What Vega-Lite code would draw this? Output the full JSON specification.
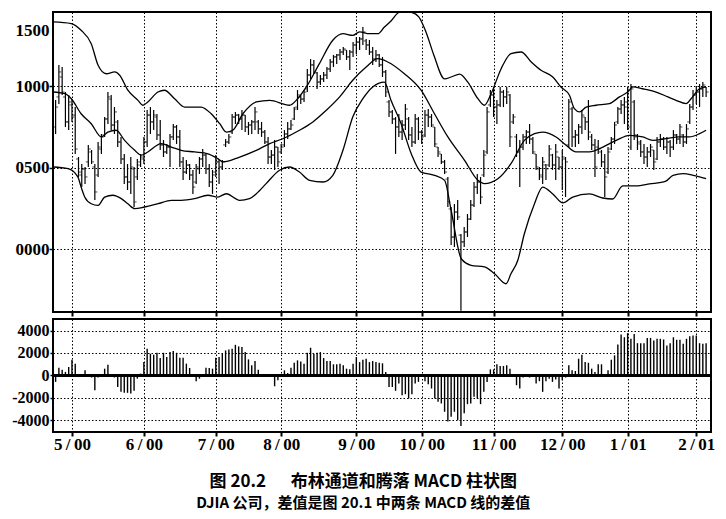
{
  "$schema": "https://vega.github.io/schema/vega-lite/v6.json",
  "background": "white",
  "padding": {"left": 10, "top": 11, "right": 12, "bottom": 4},
  "spacing": 0,
  "config": {
    "view": {"stroke": "black", "strokeWidth": 2},
    "axis": {
      "labelFont": "Liberation Serif", "labelFontWeight": "bold", "labelFontSize": 17,
      "labelColor": "black", "tickColor": "black", "domain": false,
      "gridColor": "black", "gridDash": [1.5, 2], "gridOpacity": 1, "gridWidth": 1,
      "labelOverlap": false, "labelFlush": false
    }
  },
  "title": {
    "text": "图 20.2\u3000\u00a0\u00a0布林通道和腾落 MACD 柱状图",
    "subtitle": "DJIA 公司，差值是图 20.1 中两条 MACD 线的差值",
    "orient": "bottom", "anchor": "middle", "frame": "bounds",
    "font": "Noto Sans CJK SC", "fontSize": 17, "fontWeight": "bold", "color": "black",
    "subtitleFont": "Noto Sans CJK SC", "subtitleFontSize": 15, "subtitleFontWeight": "bold",
    "subtitleColor": "black", "offset": 21, "subtitlePadding": 5
  },
  "datasets": {
    "bars": [
      {"i":-5,"h":10915,"l":10707,"o":10750,"c":10872},{"i":-4,"h":11130,"l":10891,"o":10934,"c":11087},
      {"i":-3,"h":11117,"l":10946,"o":11056,"c":10964},{"i":-2,"h":10964,"l":10750,"o":10934,"c":10781},
      {"i":-1,"h":10946,"l":10731,"o":10781,"c":10903},{"i":0,"h":10921,"l":10781,"o":10885,"c":10811},
      {"i":1,"h":10872,"l":10585,"o":10823,"c":10615},{"i":2,"h":10566,"l":10444,"o":10554,"c":10474},
      {"i":3,"h":10523,"l":10382,"o":10456,"c":10493},{"i":4,"h":10505,"l":10401,"o":10493,"c":10444},
      {"i":5,"h":10640,"l":10505,"o":10536,"c":10615},{"i":6,"h":10609,"l":10523,"o":10597,"c":10536},
      {"i":7,"h":10523,"l":10303,"o":10505,"c":10352},{"i":8,"h":10658,"l":10444,"o":10456,"c":10627},
      {"i":9,"h":10707,"l":10585,"o":10615,"c":10689},{"i":10,"h":10811,"l":10689,"o":10701,"c":10799},
      {"i":11,"h":10964,"l":10768,"o":10799,"c":10934},{"i":12,"h":10946,"l":10731,"o":10921,"c":10762},
      {"i":13,"h":10872,"l":10707,"o":10762,"c":10842},{"i":14,"h":10793,"l":10627,"o":10781,"c":10658},
      {"i":15,"h":10689,"l":10523,"o":10658,"c":10554},{"i":16,"h":10585,"l":10401,"o":10554,"c":10444},
      {"i":17,"h":10523,"l":10364,"o":10444,"c":10413},{"i":18,"h":10566,"l":10340,"o":10413,"c":10505},
      {"i":19,"h":10505,"l":10260,"o":10493,"c":10291},{"i":20,"h":10554,"l":10425,"o":10444,"c":10517},
      {"i":21,"h":10585,"l":10505,"o":10536,"c":10566},{"i":22,"h":10689,"l":10523,"o":10554,"c":10658},
      {"i":23,"h":10854,"l":10627,"o":10658,"c":10823},{"i":24,"h":10872,"l":10707,"o":10823,"c":10781},
      {"i":25,"h":10854,"l":10731,"o":10781,"c":10823},{"i":26,"h":10829,"l":10670,"o":10811,"c":10701},
      {"i":27,"h":10793,"l":10609,"o":10701,"c":10640},{"i":28,"h":10670,"l":10566,"o":10640,"c":10597},
      {"i":29,"h":10646,"l":10585,"o":10597,"c":10627},{"i":30,"h":10707,"l":10505,"o":10627,"c":10689},
      {"i":31,"h":10768,"l":10670,"o":10689,"c":10750},{"i":32,"h":10762,"l":10646,"o":10750,"c":10689},
      {"i":33,"h":10731,"l":10505,"o":10689,"c":10536},{"i":34,"h":10566,"l":10425,"o":10536,"c":10474},
      {"i":35,"h":10548,"l":10462,"o":10474,"c":10517},{"i":36,"h":10523,"l":10425,"o":10517,"c":10456},
      {"i":37,"h":10487,"l":10340,"o":10456,"c":10382},{"i":38,"h":10523,"l":10401,"o":10413,"c":10505},
      {"i":39,"h":10566,"l":10462,"o":10493,"c":10554},{"i":40,"h":10615,"l":10505,"o":10554,"c":10578},
      {"i":41,"h":10585,"l":10462,"o":10578,"c":10493},{"i":42,"h":10523,"l":10382,"o":10493,"c":10413},
      {"i":43,"h":10487,"l":10340,"o":10413,"c":10456},{"i":44,"h":10578,"l":10444,"o":10474,"c":10536},
      {"i":45,"h":10548,"l":10401,"o":10536,"c":10505},{"i":46,"h":10548,"l":10487,"o":10505,"c":10536},
      {"i":47,"h":10676,"l":10627,"o":10640,"c":10658},{"i":48,"h":10707,"l":10646,"o":10658,"c":10689},
      {"i":49,"h":10829,"l":10707,"o":10719,"c":10811},{"i":50,"h":10842,"l":10768,"o":10811,"c":10823},
      {"i":51,"h":10829,"l":10768,"o":10823,"c":10799},{"i":52,"h":10854,"l":10731,"o":10799,"c":10823},
      {"i":53,"h":10823,"l":10719,"o":10823,"c":10750},{"i":54,"h":10781,"l":10701,"o":10750,"c":10762},
      {"i":55,"h":10793,"l":10707,"o":10762,"c":10781},{"i":56,"h":10872,"l":10731,"o":10781,"c":10842},
      {"i":57,"h":10793,"l":10707,"o":10781,"c":10738},{"i":58,"h":10781,"l":10689,"o":10738,"c":10719},
      {"i":59,"h":10731,"l":10646,"o":10719,"c":10658},{"i":60,"h":10689,"l":10523,"o":10658,"c":10566},
      {"i":61,"h":10609,"l":10523,"o":10566,"c":10578},{"i":62,"h":10670,"l":10487,"o":10578,"c":10627},
      {"i":63,"h":10627,"l":10505,"o":10627,"c":10536},{"i":64,"h":10646,"l":10585,"o":10597,"c":10627},
      {"i":65,"h":10731,"l":10627,"o":10640,"c":10707},{"i":66,"h":10781,"l":10676,"o":10707,"c":10738},
      {"i":67,"h":10793,"l":10731,"o":10738,"c":10762},{"i":68,"h":10872,"l":10793,"o":10799,"c":10860},
      {"i":69,"h":10976,"l":10854,"o":10872,"c":10946},{"i":70,"h":10946,"l":10891,"o":10934,"c":10921},
      {"i":71,"h":10976,"l":10903,"o":10921,"c":10964},{"i":72,"h":11105,"l":10964,"o":10983,"c":11068},
      {"i":73,"h":11166,"l":11044,"o":11068,"c":11130},{"i":74,"h":11160,"l":11074,"o":11130,"c":11087},
      {"i":75,"h":11087,"l":10983,"o":11081,"c":11025},{"i":76,"h":11068,"l":11007,"o":11025,"c":11044},
      {"i":77,"h":11087,"l":11025,"o":11044,"c":11068},{"i":78,"h":11117,"l":11044,"o":11068,"c":11105},
      {"i":79,"h":11166,"l":11087,"o":11105,"c":11148},{"i":80,"h":11191,"l":11117,"o":11148,"c":11179},
      {"i":81,"h":11197,"l":11136,"o":11179,"c":11191},{"i":82,"h":11228,"l":11160,"o":11191,"c":11209},
      {"i":83,"h":11240,"l":11191,"o":11209,"c":11228},{"i":84,"h":11221,"l":11160,"o":11221,"c":11179},
      {"i":85,"h":11221,"l":11099,"o":11179,"c":11209},{"i":86,"h":11270,"l":11179,"o":11209,"c":11252},
      {"i":87,"h":11301,"l":11197,"o":11252,"c":11270},{"i":88,"h":11301,"l":11221,"o":11270,"c":11289},
      {"i":89,"h":11362,"l":11252,"o":11289,"c":11332},{"i":90,"h":11289,"l":11221,"o":11277,"c":11252},
      {"i":91,"h":11283,"l":11191,"o":11252,"c":11209},{"i":92,"h":11240,"l":11130,"o":11209,"c":11166},
      {"i":93,"h":11221,"l":11148,"o":11166,"c":11191},{"i":94,"h":11197,"l":11117,"o":11191,"c":11130},
      {"i":95,"h":11179,"l":11056,"o":11130,"c":11087},{"i":96,"h":11099,"l":10934,"o":11087,"c":10964},
      {"i":97,"h":10915,"l":10811,"o":10903,"c":10842},{"i":98,"h":10854,"l":10768,"o":10842,"c":10799},
      {"i":99,"h":10811,"l":10585,"o":10799,"c":10750},{"i":100,"h":10829,"l":10689,"o":10750,"c":10719},
      {"i":101,"h":10793,"l":10670,"o":10719,"c":10762},{"i":102,"h":10891,"l":10731,"o":10762,"c":10860},
      {"i":103,"h":10811,"l":10670,"o":10799,"c":10701},{"i":104,"h":10750,"l":10627,"o":10701,"c":10658},
      {"i":105,"h":10829,"l":10646,"o":10658,"c":10799},{"i":106,"h":10811,"l":10670,"o":10799,"c":10719},
      {"i":107,"h":10731,"l":10646,"o":10719,"c":10689},{"i":108,"h":10854,"l":10689,"o":10701,"c":10823},
      {"i":109,"h":10860,"l":10750,"o":10823,"c":10811},{"i":110,"h":10829,"l":10750,"o":10811,"c":10762},
      {"i":111,"h":10750,"l":10627,"o":10750,"c":10646},{"i":112,"h":10627,"l":10566,"o":10627,"c":10597},
      {"i":113,"h":10585,"l":10523,"o":10585,"c":10536},{"i":114,"h":10548,"l":10462,"o":10536,"c":10474},
      {"i":115,"h":10444,"l":10260,"o":10431,"c":10291},{"i":116,"h":10260,"l":10027,"o":10248,"c":10076},
      {"i":117,"h":10278,"l":10015,"o":10076,"c":10229},{"i":118,"h":10303,"l":10180,"o":10229,"c":10199},
      {"i":119,"h":10095,"l":9625,"o":10088,"c":10046},{"i":120,"h":10138,"l":10015,"o":10046,"c":10107},
      {"i":121,"h":10217,"l":10076,"o":10107,"c":10186},{"i":122,"h":10303,"l":10180,"o":10186,"c":10272},
      {"i":123,"h":10413,"l":10260,"o":10272,"c":10382},{"i":124,"h":10462,"l":10340,"o":10382,"c":10413},
      {"i":125,"h":10444,"l":10278,"o":10413,"c":10321},{"i":126,"h":10609,"l":10444,"o":10456,"c":10578},
      {"i":127,"h":10872,"l":10585,"o":10597,"c":10842},{"i":128,"h":10976,"l":10872,"o":10885,"c":10946},
      {"i":129,"h":10995,"l":10811,"o":10946,"c":10872},{"i":130,"h":10915,"l":10768,"o":10872,"c":10885},
      {"i":131,"h":10995,"l":10872,"o":10885,"c":10964},{"i":132,"h":10976,"l":10872,"o":10964,"c":10934},
      {"i":133,"h":10995,"l":10891,"o":10934,"c":10964},{"i":134,"h":10952,"l":10627,"o":10946,"c":10689},
      {"i":135,"h":10829,"l":10768,"o":10781,"c":10811},{"i":136,"h":10707,"l":10566,"o":10689,"c":10597},
      {"i":137,"h":10670,"l":10382,"o":10597,"c":10627},{"i":138,"h":10707,"l":10609,"o":10627,"c":10689},
      {"i":139,"h":10731,"l":10646,"o":10689,"c":10719},{"i":140,"h":10768,"l":10646,"o":10719,"c":10676},
      {"i":141,"h":10689,"l":10585,"o":10676,"c":10597},{"i":142,"h":10585,"l":10487,"o":10585,"c":10505},
      {"i":143,"h":10505,"l":10425,"o":10493,"c":10456},{"i":144,"h":10566,"l":10401,"o":10444,"c":10536},
      {"i":145,"h":10523,"l":10425,"o":10517,"c":10493},{"i":146,"h":10640,"l":10505,"o":10517,"c":10615},
      {"i":147,"h":10585,"l":10487,"o":10578,"c":10517},{"i":148,"h":10646,"l":10425,"o":10517,"c":10597},
      {"i":149,"h":10566,"l":10487,"o":10566,"c":10505},{"i":150,"h":10609,"l":10364,"o":10505,"c":10566},
      {"i":151,"h":10566,"l":10321,"o":10554,"c":10536},{"i":152,"h":10921,"l":10627,"o":10640,"c":10903},
      {"i":153,"h":10872,"l":10627,"o":10860,"c":10689},{"i":154,"h":10731,"l":10627,"o":10689,"c":10701},
      {"i":155,"h":10768,"l":10646,"o":10701,"c":10750},{"i":156,"h":10854,"l":10707,"o":10750,"c":10823},
      {"i":157,"h":10811,"l":10731,"o":10811,"c":10781},{"i":158,"h":10915,"l":10670,"o":10781,"c":10719},
      {"i":159,"h":10707,"l":10609,"o":10689,"c":10640},{"i":160,"h":10676,"l":10444,"o":10640,"c":10505},
      {"i":161,"h":10670,"l":10585,"o":10627,"c":10615},{"i":162,"h":10609,"l":10505,"o":10597,"c":10536},
      {"i":163,"h":10585,"l":10321,"o":10536,"c":10444},{"i":164,"h":10627,"l":10462,"o":10474,"c":10597},
      {"i":165,"h":10689,"l":10609,"o":10615,"c":10676},{"i":166,"h":10781,"l":10646,"o":10676,"c":10762},
      {"i":167,"h":10872,"l":10768,"o":10781,"c":10860},{"i":168,"h":10915,"l":10829,"o":10860,"c":10885},
      {"i":169,"h":10934,"l":10768,"o":10885,"c":10872},{"i":170,"h":10995,"l":10731,"o":10903,"c":10750},
      {"i":171,"h":11013,"l":10609,"o":10627,"c":10983},{"i":172,"h":10915,"l":10670,"o":10903,"c":10701},
      {"i":173,"h":10707,"l":10609,"o":10689,"c":10658},{"i":174,"h":10670,"l":10566,"o":10646,"c":10597},
      {"i":175,"h":10646,"l":10523,"o":10597,"c":10566},{"i":176,"h":10627,"l":10505,"o":10566,"c":10597},
      {"i":177,"h":10646,"l":10566,"o":10597,"c":10627},{"i":178,"h":10609,"l":10487,"o":10609,"c":10536},
      {"i":179,"h":10689,"l":10548,"o":10554,"c":10658},{"i":180,"h":10707,"l":10627,"o":10658,"c":10676},
      {"i":181,"h":10689,"l":10609,"o":10676,"c":10627},{"i":182,"h":10689,"l":10585,"o":10627,"c":10658},
      {"i":183,"h":10670,"l":10566,"o":10658,"c":10627},{"i":184,"h":10731,"l":10609,"o":10627,"c":10701},
      {"i":185,"h":10707,"l":10646,"o":10701,"c":10676},{"i":186,"h":10768,"l":10646,"o":10676,"c":10750},
      {"i":187,"h":10707,"l":10627,"o":10701,"c":10658},{"i":188,"h":10768,"l":10646,"o":10658,"c":10738},
      {"i":189,"h":10891,"l":10768,"o":10781,"c":10872},{"i":190,"h":10976,"l":10854,"o":10872,"c":10946},
      {"i":191,"h":10995,"l":10891,"o":10946,"c":10964},{"i":192,"h":11013,"l":10872,"o":10964,"c":10983},
      {"i":193,"h":11025,"l":10934,"o":10983,"c":11007},{"i":194,"h":10995,"l":10934,"o":10995,"c":10964}
    ],
    "bands": [
      {"b":"upper","i":-5.8,"v":11393},{"b":"upper","i":-0.2,"v":11383},{"b":"upper","i":2.8,"v":11342},
      {"b":"upper","i":5.9,"v":11260},{"b":"upper","i":8.0,"v":11128},{"b":"upper","i":10.5,"v":11076},
      {"b":"upper","i":13.1,"v":11087},{"b":"upper","i":14.6,"v":11067},{"b":"upper","i":17.1,"v":10975},
      {"b":"upper","i":20.2,"v":10913},{"b":"upper","i":21.7,"v":10883},{"b":"upper","i":23.2,"v":10903},
      {"b":"upper","i":26.3,"v":10964},{"b":"upper","i":28.3,"v":10975},{"b":"upper","i":31.4,"v":10923},
      {"b":"upper","i":34.5,"v":10872},{"b":"upper","i":39.5,"v":10872},{"b":"upper","i":42.6,"v":10831},
      {"b":"upper","i":45.2,"v":10770},{"b":"upper","i":47.2,"v":10719},{"b":"upper","i":49.2,"v":10730},
      {"b":"upper","i":52.3,"v":10831},{"b":"upper","i":56.4,"v":10903},{"b":"upper","i":60.5,"v":10913},
      {"b":"upper","i":66.6,"v":10883},{"b":"upper","i":68.6,"v":10913},{"b":"upper","i":71.7,"v":10995},
      {"b":"upper","i":75.7,"v":11138},{"b":"upper","i":79.8,"v":11281},{"b":"upper","i":82.9,"v":11321},
      {"b":"upper","i":85.9,"v":11311},{"b":"upper","i":88.0,"v":11332},{"b":"upper","i":91.0,"v":11321},
      {"b":"upper","i":93.6,"v":11321},{"b":"upper","i":95.6,"v":11362},{"b":"upper","i":97.6,"v":11399},
      {"b":"upper","i":99.7,"v":11448},{"b":"upper","i":101.5,"v":11460},{"b":"upper","i":103.7,"v":11454},
      {"b":"upper","i":106.1,"v":11424},{"b":"upper","i":108.3,"v":11332},{"b":"upper","i":110.7,"v":11191},
      {"b":"upper","i":114.0,"v":11044},{"b":"upper","i":116.0,"v":11056},{"b":"upper","i":118.6,"v":11074},
      {"b":"upper","i":121.1,"v":11025},{"b":"upper","i":124.2,"v":10923},{"b":"upper","i":126.2,"v":10883},
      {"b":"upper","i":128.2,"v":10952},{"b":"upper","i":131.3,"v":11107},{"b":"upper","i":134.3,"v":11199},
      {"b":"upper","i":137.4,"v":11209},{"b":"upper","i":140.5,"v":11148},{"b":"upper","i":143.5,"v":11097},
      {"b":"upper","i":147.1,"v":11056},{"b":"upper","i":149.6,"v":10995},{"b":"upper","i":152.2,"v":10944},
      {"b":"upper","i":153.7,"v":10862},{"b":"upper","i":155.3,"v":10842},{"b":"upper","i":157.3,"v":10872},
      {"b":"upper","i":160.3,"v":10883},{"b":"upper","i":164.4,"v":10893},{"b":"upper","i":167.5,"v":10934},
      {"b":"upper","i":170.0,"v":10964},{"b":"upper","i":171.6,"v":10995},{"b":"upper","i":174.6,"v":10984},
      {"b":"upper","i":178.7,"v":10964},{"b":"upper","i":182.3,"v":10934},{"b":"upper","i":184.8,"v":10913},
      {"b":"upper","i":187.9,"v":10893},{"b":"upper","i":189.4,"v":10923},{"b":"upper","i":192.0,"v":10984},
      {"b":"upper","i":194.0,"v":10995},
      {"b":"middle","i":-5.8,"v":10964},{"b":"middle","i":-2.2,"v":10954},{"b":"middle","i":-0.2,"v":10923},
      {"b":"middle","i":2.8,"v":10831},{"b":"middle","i":5.9,"v":10770},{"b":"middle","i":9.0,"v":10689},
      {"b":"middle","i":11.0,"v":10719},{"b":"middle","i":13.5,"v":10730},{"b":"middle","i":16.1,"v":10668},
      {"b":"middle","i":19.2,"v":10607},{"b":"middle","i":21.2,"v":10577},{"b":"middle","i":23.2,"v":10597},
      {"b":"middle","i":27.3,"v":10648},{"b":"middle","i":30.4,"v":10627},{"b":"middle","i":33.4,"v":10607},
      {"b":"middle","i":37.5,"v":10597},{"b":"middle","i":41.6,"v":10586},{"b":"middle","i":44.6,"v":10556},
      {"b":"middle","i":46.2,"v":10536},{"b":"middle","i":51.3,"v":10566},{"b":"middle","i":56.4,"v":10607},
      {"b":"middle","i":60.5,"v":10648},{"b":"middle","i":64.5,"v":10678},{"b":"middle","i":69.6,"v":10730},
      {"b":"middle","i":73.7,"v":10781},{"b":"middle","i":77.8,"v":10852},{"b":"middle","i":81.9,"v":10934},
      {"b":"middle","i":85.9,"v":11036},{"b":"middle","i":90.0,"v":11117},{"b":"middle","i":93.6,"v":11168},
      {"b":"middle","i":96.6,"v":11148},{"b":"middle","i":101.7,"v":11076},{"b":"middle","i":106.8,"v":10975},
      {"b":"middle","i":110.9,"v":10831},{"b":"middle","i":115.0,"v":10689},{"b":"middle","i":120.1,"v":10546},
      {"b":"middle","i":124.2,"v":10423},{"b":"middle","i":126.2,"v":10403},{"b":"middle","i":130.3,"v":10433},
      {"b":"middle","i":134.3,"v":10525},{"b":"middle","i":138.4,"v":10668},{"b":"middle","i":141.5,"v":10709},
      {"b":"middle","i":144.0,"v":10719},{"b":"middle","i":148.1,"v":10689},{"b":"middle","i":151.2,"v":10638},
      {"b":"middle","i":154.2,"v":10597},{"b":"middle","i":158.3,"v":10597},{"b":"middle","i":162.4,"v":10627},
      {"b":"middle","i":166.5,"v":10668},{"b":"middle","i":170.6,"v":10699},{"b":"middle","i":174.6,"v":10689},
      {"b":"middle","i":177.7,"v":10668},{"b":"middle","i":181.7,"v":10678},{"b":"middle","i":185.8,"v":10689},
      {"b":"middle","i":188.9,"v":10689},{"b":"middle","i":192.0,"v":10709},{"b":"middle","i":194.0,"v":10730},
      {"b":"lower","i":-5.8,"v":10505},{"b":"lower","i":-1.2,"v":10495},{"b":"lower","i":1.8,"v":10444},
      {"b":"lower","i":2.8,"v":10382},{"b":"lower","i":3.9,"v":10321},{"b":"lower","i":5.9,"v":10280},
      {"b":"lower","i":8.0,"v":10270},{"b":"lower","i":10.0,"v":10321},{"b":"lower","i":12.5,"v":10332},
      {"b":"lower","i":15.1,"v":10311},{"b":"lower","i":17.1,"v":10280},{"b":"lower","i":19.2,"v":10250},
      {"b":"lower","i":22.2,"v":10260},{"b":"lower","i":26.3,"v":10280},{"b":"lower","i":30.4,"v":10301},
      {"b":"lower","i":33.4,"v":10301},{"b":"lower","i":37.5,"v":10311},{"b":"lower","i":41.6,"v":10332},
      {"b":"lower","i":44.6,"v":10321},{"b":"lower","i":47.2,"v":10341},{"b":"lower","i":51.3,"v":10301},
      {"b":"lower","i":54.3,"v":10311},{"b":"lower","i":56.4,"v":10341},{"b":"lower","i":59.4,"v":10403},
      {"b":"lower","i":63.5,"v":10485},{"b":"lower","i":66.6,"v":10505},{"b":"lower","i":69.6,"v":10474},
      {"b":"lower","i":72.7,"v":10423},{"b":"lower","i":76.8,"v":10413},{"b":"lower","i":79.8,"v":10454},
      {"b":"lower","i":82.9,"v":10607},{"b":"lower","i":85.9,"v":10811},{"b":"lower","i":89.0,"v":10923},
      {"b":"lower","i":92.0,"v":10995},{"b":"lower","i":95.6,"v":11025},{"b":"lower","i":97.6,"v":10913},
      {"b":"lower","i":100.7,"v":10770},{"b":"lower","i":103.8,"v":10586},{"b":"lower","i":106.8,"v":10474},
      {"b":"lower","i":110.9,"v":10454},{"b":"lower","i":114.0,"v":10423},{"b":"lower","i":116.0,"v":10240},
      {"b":"lower","i":119.1,"v":9943},{"b":"lower","i":122.1,"v":9903},{"b":"lower","i":126.2,"v":9893},
      {"b":"lower","i":129.3,"v":9851},{"b":"lower","i":132.8,"v":9790},{"b":"lower","i":134.3,"v":9851},
      {"b":"lower","i":136.4,"v":9934},{"b":"lower","i":138.4,"v":10096},{"b":"lower","i":141.5,"v":10280},
      {"b":"lower","i":144.0,"v":10382},{"b":"lower","i":147.1,"v":10340},{"b":"lower","i":150.2,"v":10285},
      {"b":"lower","i":153.2,"v":10321},{"b":"lower","i":158.3,"v":10340},{"b":"lower","i":162.4,"v":10315},
      {"b":"lower","i":165.4,"v":10309},{"b":"lower","i":168.5,"v":10389},{"b":"lower","i":172.6,"v":10389},
      {"b":"lower","i":176.7,"v":10401},{"b":"lower","i":181.7,"v":10419},{"b":"lower","i":183.9,"v":10454},
      {"b":"lower","i":187.0,"v":10464},{"b":"lower","i":190.1,"v":10454},{"b":"lower","i":194.0,"v":10433}
    ],
    "hist": [
      {"i":-5,"v":-590},{"i":-4,"v":680},{"i":-3,"v":500},{"i":-2,"v":300},{"i":-1,"v":740},
      {"i":0,"v":1390},{"i":1,"v":1040},{"i":2,"v":-150},{"i":3,"v":30},{"i":4,"v":440},
      {"i":5,"v":20},{"i":6,"v":-200},{"i":7,"v":-1330},{"i":8,"v":-200},{"i":9,"v":-30},
      {"i":10,"v":590},{"i":11,"v":950},{"i":12,"v":20},{"i":13,"v":-200},{"i":14,"v":-1040},
      {"i":15,"v":-1480},{"i":16,"v":-1570},{"i":17,"v":-1570},{"i":18,"v":-1630},{"i":19,"v":-1390},
      {"i":20,"v":-300},{"i":21,"v":150},{"i":22,"v":1180},{"i":23,"v":2370},{"i":24,"v":1920},
      {"i":25,"v":1840},{"i":26,"v":2010},{"i":27,"v":1540},{"i":28,"v":2010},{"i":29,"v":1630},
      {"i":30,"v":2070},{"i":31,"v":2160},{"i":32,"v":2010},{"i":33,"v":1570},{"i":34,"v":1570},
      {"i":35,"v":1040},{"i":36,"v":650},{"i":37,"v":-150},{"i":38,"v":-530},{"i":39,"v":-300},
      {"i":40,"v":-30},{"i":41,"v":680},{"i":42,"v":650},{"i":43,"v":590},{"i":44,"v":1570},
      {"i":45,"v":1630},{"i":46,"v":1920},{"i":47,"v":2220},{"i":48,"v":2310},{"i":49,"v":2370},
      {"i":50,"v":2720},{"i":51,"v":2580},{"i":52,"v":2520},{"i":53,"v":2070},{"i":54,"v":1420},
      {"i":55,"v":890},{"i":56,"v":1270},{"i":57,"v":500},{"i":58,"v":20},{"i":59,"v":-50},
      {"i":60,"v":-90},{"i":61,"v":-150},{"i":62,"v":-980},{"i":63,"v":-440},{"i":64,"v":60},
      {"i":65,"v":440},{"i":66,"v":200},{"i":67,"v":680},{"i":68,"v":1120},{"i":69,"v":1330},
      {"i":70,"v":1240},{"i":71,"v":1040},{"i":72,"v":2010},{"i":73,"v":2460},{"i":74,"v":1920},
      {"i":75,"v":2010},{"i":76,"v":2070},{"i":77,"v":1540},{"i":78,"v":1270},{"i":79,"v":1270},
      {"i":80,"v":980},{"i":81,"v":980},{"i":82,"v":1040},{"i":83,"v":890},{"i":84,"v":590},
      {"i":85,"v":530},{"i":86,"v":1040},{"i":87,"v":1630},{"i":88,"v":1180},{"i":89,"v":1390},
      {"i":90,"v":1480},{"i":91,"v":1180},{"i":92,"v":1270},{"i":93,"v":1180},{"i":94,"v":1120},
      {"i":95,"v":1070},{"i":96,"v":300},{"i":97,"v":-1040},{"i":98,"v":-1040},{"i":99,"v":-1390},
      {"i":100,"v":-740},{"i":101,"v":-1780},{"i":102,"v":-1690},{"i":103,"v":-2070},{"i":104,"v":-1690},
      {"i":105,"v":-740},{"i":106,"v":-590},{"i":107,"v":-90},{"i":108,"v":-530},{"i":109,"v":-800},
      {"i":110,"v":-1180},{"i":111,"v":-2070},{"i":112,"v":-2370},{"i":113,"v":-2520},{"i":114,"v":-3260},
      {"i":115,"v":-4140},{"i":116,"v":-3700},{"i":117,"v":-3260},{"i":118,"v":-4000},{"i":119,"v":-4530},
      {"i":120,"v":-3400},{"i":121,"v":-2580},{"i":122,"v":-2520},{"i":123,"v":-1920},{"i":124,"v":-2070},
      {"i":125,"v":-2580},{"i":126,"v":-1480},{"i":127,"v":-590},{"i":128,"v":530},{"i":129,"v":530},
      {"i":130,"v":980},{"i":131,"v":830},{"i":132,"v":830},{"i":133,"v":890},{"i":134,"v":590},
      {"i":135,"v":20},{"i":136,"v":-890},{"i":137,"v":-1180},{"i":138,"v":-200},{"i":139,"v":-60},
      {"i":140,"v":-200},{"i":141,"v":20},{"i":142,"v":-740},{"i":143,"v":-530},{"i":144,"v":-1480},
      {"i":145,"v":-530},{"i":146,"v":-300},{"i":147,"v":-590},{"i":148,"v":-380},{"i":149,"v":-1180},
      {"i":150,"v":-440},{"i":151,"v":-200},{"i":152,"v":890},{"i":153,"v":440},{"i":154,"v":380},
      {"i":155,"v":1480},{"i":156,"v":1840},{"i":157,"v":1180},{"i":158,"v":1120},{"i":159,"v":590},
      {"i":160,"v":300},{"i":161,"v":980},{"i":162,"v":980},{"i":163,"v":30},{"i":164,"v":440},
      {"i":165,"v":1390},{"i":166,"v":1780},{"i":167,"v":2750},{"i":168,"v":3640},{"i":169,"v":3400},
      {"i":170,"v":3760},{"i":171,"v":3260},{"i":172,"v":3700},{"i":173,"v":2870},{"i":174,"v":2870},
      {"i":175,"v":2870},{"i":176,"v":3340},{"i":177,"v":3340},{"i":178,"v":3110},{"i":179,"v":3260},
      {"i":180,"v":3260},{"i":181,"v":3200},{"i":182,"v":2660},{"i":183,"v":2870},{"i":184,"v":3400},
      {"i":185,"v":3170},{"i":186,"v":3170},{"i":187,"v":2810},{"i":188,"v":3260},{"i":189,"v":3490},
      {"i":190,"v":3550},{"i":191,"v":3550},{"i":192,"v":2870},{"i":193,"v":2810},{"i":194,"v":2870}
    ]
  },
  "vconcat": [
    {
      "width": 658,
      "height": 300,
      "layer": [
        {
          "data": {"name": "bands"},
          "mark": {"type": "line", "color": "black", "strokeWidth": 1.3, "interpolate": "monotone", "clip": true},
          "encoding": {
            "x": {
              "field": "i", "type": "quantitative", "title": null,
              "scale": {"domain": [-5.8, 195.5], "nice": false, "zero": false},
              "axis": {"values": [0, 22, 44, 64, 87, 107, 129, 150, 170, 191], "labels": false, "grid": true, "tickSize": 4, "tickWidth": 2}
            },
            "y": {
              "field": "v", "type": "quantitative", "title": null,
              "scale": {"domain": [9617, 11454], "nice": false, "zero": false},
              "axis": {
                "values": [10000, 10500, 11000, 11342],
                "labelExpr": "datum.value > 11200 ? '1500' : format(datum.value - 10000, '04d')",
                "grid": true,
                "gridOpacity": {"condition": {"test": "datum.value > 11200", "value": 0}, "value": 1},
                "tickOpacity": {"condition": {"test": "datum.value > 11200", "value": 0}, "value": 1},
                "tickSize": 4, "tickWidth": 1.5, "labelPadding": 0, "labelOverlap": false
              }
            },
            "detail": {"field": "b"}
          }
        },
        {
          "data": {"name": "bars"},
          "mark": {"type": "rule", "color": "black", "strokeWidth": 1.2},
          "encoding": {
            "x": {"field": "i", "type": "quantitative", "title": null},
            "y": {"field": "l", "type": "quantitative", "title": null},
            "y2": {"field": "h"}
          }
        },
        {
          "data": {"name": "bars"},
          "mark": {"type": "tick", "orient": "horizontal", "color": "black", "size": 2.4, "thickness": 1, "xOffset": -1.3},
          "encoding": {
            "x": {"field": "i", "type": "quantitative", "title": null},
            "y": {"field": "o", "type": "quantitative", "title": null}
          }
        },
        {
          "data": {"name": "bars"},
          "mark": {"type": "tick", "orient": "horizontal", "color": "black", "size": 2.4, "thickness": 1, "xOffset": 1.3},
          "encoding": {
            "x": {"field": "i", "type": "quantitative", "title": null},
            "y": {"field": "c", "type": "quantitative", "title": null}
          }
        }
      ]
    },
    {
      "width": 658,
      "height": 113,
      "data": {"name": "hist"},
      "layer": [
        {
          "mark": {"type": "rule", "color": "black", "strokeWidth": 1.4},
          "encoding": {
            "x": {
              "field": "i", "type": "quantitative", "title": null,
              "scale": {"domain": [-5.8, 195.5], "nice": false, "zero": false},
              "axis": {
                "values": [0, 22, 44, 64, 87, 107, 129, 150, 170, 191],
                "labelExpr": "['5\u2009/\u200900','6\u2009/\u200900','7\u2009/\u200900','8\u2009/\u200900','9\u2009/\u200900','10\u2009/\u200900','11\u2009/\u200900','12\u2009/\u200900','1\u2009/\u200901','2\u2009/\u200901'][indexof([0,22,44,64,87,107,129,150,170,191], datum.value)]",
                "grid": true, "tickSize": 4, "tickWidth": 2, "labelPadding": 0, "labelOverlap": false
              }
            },
            "y": {
              "field": "v", "type": "quantitative", "title": null,
              "scale": {"domain": [-5070, 5030], "nice": false, "zero": false},
              "axis": {
                "values": [-4000, -2000, 0, 2000, 4000],
                "labelExpr": "datum.value < 0 ? '-' + (-datum.value) : '' + datum.value",
                "grid": true, "tickSize": 3, "tickWidth": 1.5, "labelPadding": 1,
                "labelOverlap": false, "labelFontSize": 16
              }
            },
            "y2": {"datum": 0}
          }
        },
        {
          "mark": {"type": "rule", "color": "black", "strokeWidth": 2},
          "encoding": {
            "y": {
              "datum": 0, "type": "quantitative", "title": null,
              "axis": {
                "values": [-4000, -2000, 0, 2000, 4000],
                "labelExpr": "datum.value < 0 ? '-' + (-datum.value) : '' + datum.value",
                "grid": true, "tickSize": 3, "tickWidth": 1.5, "labelPadding": 1,
                "labelOverlap": false, "labelFontSize": 16
              }
            }
          }
        }
      ]
    }
  ]
}
